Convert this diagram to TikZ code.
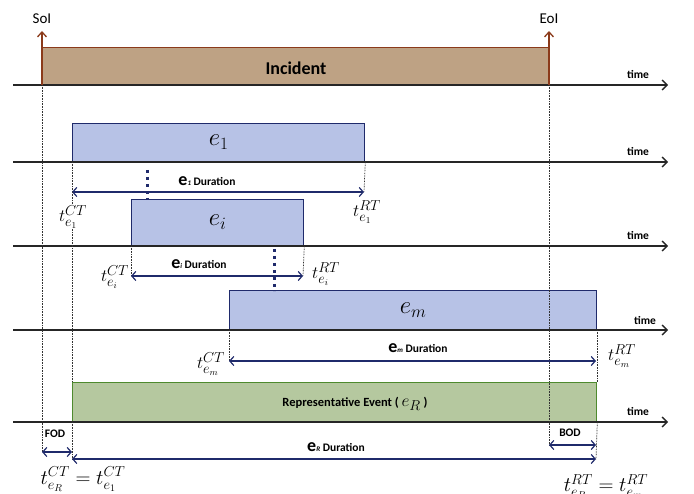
\documentclass[tikz,border=0pt]{standalone}
\usepackage{fontspec}
\setsansfont{Carlito}
\usetikzlibrary{arrows.meta}
\definecolor{navy}{HTML}{1F2A6B}
\definecolor{boxblue}{HTML}{B7C2E6}
\definecolor{tan}{HTML}{BEA284}
\definecolor{brownline}{HTML}{8B3A1A}
\definecolor{greenfill}{HTML}{B5C89F}
\definecolor{greenline}{HTML}{4E8A2E}
\begin{document}
\begin{tikzpicture}[x=1pt,y=-1pt,
  timeline/.style={draw=black!85,line width=1.6pt,-{Straight Barb[length=5pt,width=10pt,line width=1.4pt]}},
  ebox/.style={draw=navy,fill=boxblue,line width=1.3pt,anchor=south west,inner sep=0pt,font=\fontsize{23}{23}\selectfont},
  timelab/.style={font=\sffamily\bfseries\fontsize{11.5}{11.5}\selectfont},
  durarrow/.style={draw=navy,line width=1.3pt,{Straight Barb[length=4pt,width=9pt,line width=1.2pt]}-{Straight Barb[length=4pt,width=9pt,line width=1.2pt]}},
  durlab/.style={font=\sffamily\bfseries\fontsize{11.5}{11.5}\selectfont},
  vdot/.style={draw=black!80,line width=0.7pt,dash pattern=on 0.8pt off 0.8pt},
  bigdot/.style={draw=navy,line width=3pt,dash pattern=on 3pt off 4pt},
  mathlab/.style={font=\fontsize{19}{20}\selectfont,inner sep=1pt},
  brarrow/.style={draw=brownline,line width=1.5pt,-{Straight Barb[length=5pt,width=9pt,line width=1.3pt]}}
]
\useasboundingbox (0,0) rectangle (694,494);
% coordinates of timelines
\foreach \n/\y in {1/85,2/162,3/246,4/330,5/422}{
  \coordinate (Ls\n) at (13,\y);
  \coordinate (Le\n) at (668,\y);
}
% Incident box
\node[fill=tan,draw=brownline,line width=1.3pt,anchor=south west,inner sep=0pt,minimum width=507,minimum height=37] (inc) at (42,85) {};
\node[font=\sffamily\bfseries\fontsize{18}{18}\selectfont] (inclab) at (296,68) {Incident};
% event boxes
\node[ebox,minimum width=292,minimum height=38] (e1) at (72,162) {$e_1$};
\node[ebox,minimum width=172,minimum height=46] (ei) at (131,246) {$e_i$};
\node[ebox,minimum width=367,minimum height=39] (em) at (229,330) {$e_m$};
\node[draw=greenline,fill=greenfill,line width=1.3pt,anchor=south west,inner sep=0pt,minimum width=524,minimum height=39] (eR) at (72,422) {};
\node[font=\sffamily\bfseries\fontsize{12.5}{12.5}\selectfont] (eRlab) at (355,404) {Representative Event ( {\fontsize{19}{19}\selectfont$e_R$} )};
% timelines
\foreach \n in {1,...,5}{\draw[timeline] (Ls\n) -- (Le\n);}
\node[timelab] (tl1) at (638,75) {time};
\node[timelab] (tl2) at (638,152) {time};
\node[timelab] (tl3) at (638,236) {time};
\node[timelab] (tl4) at (645,320) {time};
\node[timelab] (tl5) at (638,411) {time};
% SoI / EoI
\coordinate (soiB) at (42,85);
\coordinate (soiT) at (42,31);
\coordinate (eoiB) at (549,85);
\coordinate (eoiT) at (549,31);
\draw[brarrow] (soiB) -- (soiT);
\draw[brarrow] (eoiB) -- (eoiT);
\node[font=\sffamily\fontsize{15}{15}\selectfont] (soi) at (42,19) {SoI};
\node[font=\sffamily\fontsize{15}{15}\selectfont] (eoi) at (549,19) {EoI};
% long dotted verticals
\coordinate (soiD) at (42,452);
\coordinate (eoiD) at (549,446);
\draw[vdot] (soiB) -- (soiD);
\draw[vdot] (eoiB) -- (eoiD);
% e1 duration
\coordinate (a1l) at (72,192);
\coordinate (a1r) at (364,192);
\draw[vdot] (e1.south west) -- (a1l);
\draw[vdot] (e1.south east) -- (a1r);
\draw[durarrow] (a1l) -- (a1r);
\node[durlab] (d1) at (207,181) {{\fontsize{18}{18}\selectfont e}{\fontsize{7}{7}\selectfont\itshape 1} Duration};
% e_i duration
\coordinate (ail) at (131,276);
\coordinate (air) at (303,276);
\draw[vdot] (ei.south west) -- (ail);
\draw[vdot] (ei.south east) -- (air);
\draw[durarrow] (ail) -- (air);
\node[durlab] (di) at (199,264) {{\fontsize{18}{18}\selectfont e}{\fontsize{7}{7}\selectfont\itshape i} Duration};
% e_m duration
\coordinate (aml) at (229,361);
\coordinate (amr) at (596,361);
\draw[vdot] (em.south west) -- (aml);
\draw[vdot] (em.south east) -- (eR.north east);
\draw[durarrow] (aml) -- (amr);
\node[durlab] (dm) at (418,348) {{\fontsize{18}{18}\selectfont e}{\fontsize{7}{7}\selectfont\itshape m} Duration};
% long dotted from e1 start to green
\draw[vdot] (a1l) -- (eR.north west);
% e_R duration
\coordinate (aRl) at (72,459);
\coordinate (aRr) at (596,459);
\draw[vdot] (eR.south west) -- (aRl);
\draw[vdot] (eR.south east) -- (aRr);
\draw[durarrow] (aRl) -- (aRr);
\node[durlab] (dR) at (336,447) {{\fontsize{18}{18}\selectfont e}{\fontsize{7}{7}\selectfont\itshape R} Duration};
% FOD / BOD
\coordinate (fodl) at (42,452);
\coordinate (fodr) at (72,452);
\draw[durarrow] (fodl) -- (fodr);
\node[durlab] (fod) at (55,434) {FOD};
\coordinate (bodl) at (549,445);
\coordinate (bodr) at (596,445);
\draw[durarrow] (bodl) -- (bodr);
\node[durlab] (bod) at (570,433) {BOD};
% big dotted links
\coordinate (bd1a) at (147,170);
\coordinate (bd1b) at (147,200);
\draw[bigdot] (bd1a) -- (bd1b);
\coordinate (bd2a) at (274,249);
\coordinate (bd2b) at (274,291);
\draw[bigdot] (bd2a) -- (bd2b);
% math labels
\node[mathlab,fill=white] (t1c) at (73,217) {$t_{e_1}^{CT}$};
\node[mathlab] (t1r) at (367,212) {$t_{e_1}^{RT}$};
\node[mathlab] (tic) at (115,277) {$t_{e_i}^{CT}$};
\node[mathlab] (tir) at (326,274) {$t_{e_i}^{RT}$};
\node[mathlab] (tmc) at (211,364) {$t_{e_m}^{CT}$};
\node[mathlab] (tmr) at (622,356) {$t_{e_m}^{RT}$};
\node[mathlab,font=\fontsize{20}{20}\selectfont] (tRc) at (83,479) {$t_{e_R}^{CT}=t_{e_1}^{CT}$};
\node[mathlab,font=\fontsize{20}{20}\selectfont,anchor=north] (tRr) at (606,473) {$t_{e_R}^{RT}=t_{e_m}^{RT}$};
\end{tikzpicture}
\end{document}
